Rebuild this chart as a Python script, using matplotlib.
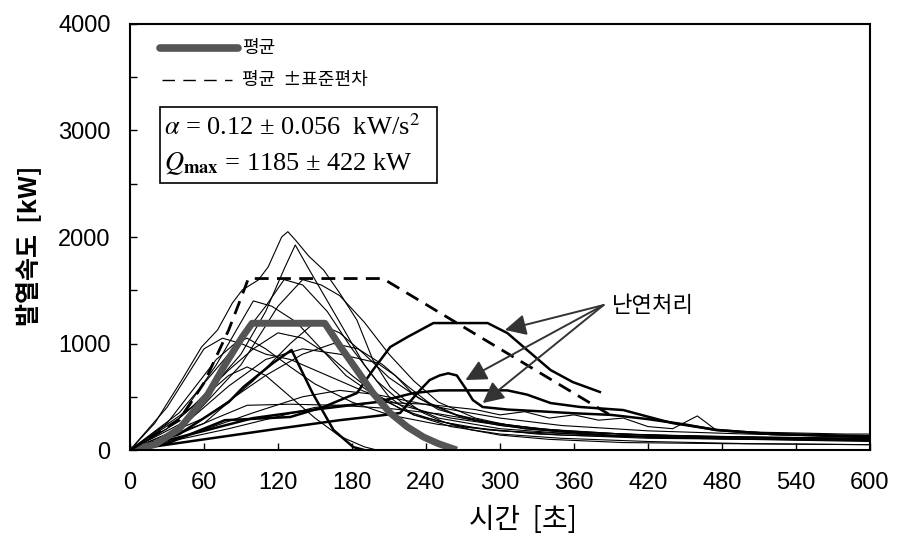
import matplotlib
matplotlib.use("Agg")
import matplotlib.pyplot as plt
from matplotlib.patches import Rectangle

plt.rcParams['font.family'] = ['Liberation Sans', 'Noto Sans CJK KR', 'DejaVu Sans']
plt.rcParams['mathtext.fontset'] = 'stix'

# mean and mean+std (kW vs s)
t_mean = [0, 20, 40, 63, 77, 91, 99, 158, 170, 184, 197, 211, 225, 238, 250, 265]
q_mean = [0, 50, 200, 520, 800, 1060, 1190, 1190, 980, 750, 535, 347, 216, 122, 60, 0]
t_std = [0, 40, 60, 80, 90, 96, 205, 392]
q_std = [0, 280, 630, 1126, 1426, 1610, 1610, 310]

# individual tests (thin lines)
t_c01 = [0, 20, 42, 58, 71, 83, 91, 104, 112, 123, 128, 135, 145, 157, 170, 184, 197, 211, 225, 238, 255, 276, 300, 340, 400, 480, 600]
q_c01 = [0, 250, 657, 967, 1127, 1380, 1502, 1596, 1718, 2000, 2050, 1960, 1820, 1690, 1474, 1220, 845, 590, 450, 347, 260, 190, 140, 100, 70, 60, 50]
t_c02 = [0, 30, 60, 90, 110, 125, 134, 145, 160, 175, 190, 210, 230, 260, 300, 350, 420, 500, 600]
q_c02 = [0, 200, 500, 900, 1300, 1700, 1925, 1700, 1400, 1100, 800, 500, 330, 220, 150, 110, 80, 60, 50]
t_c03 = [0, 40, 80, 110, 125, 140, 160, 180, 200, 220, 250, 300, 360, 450, 600]
q_c03 = [0, 350, 900, 1350, 1600, 1550, 1300, 950, 650, 450, 300, 200, 150, 120, 100]
t_c04 = [0, 30, 60, 75, 90, 110, 130, 160, 190, 220, 260, 320, 400, 500, 600]
q_c04 = [0, 400, 950, 1050, 1000, 900, 850, 700, 550, 420, 300, 200, 130, 100, 80]
t_c05 = [0, 40, 70, 90, 100, 115, 135, 155, 175, 200, 230, 270, 330, 420, 600]
q_c05 = [0, 300, 800, 1200, 1400, 1350, 1200, 950, 700, 500, 330, 220, 150, 110, 90]
t_c06 = [0, 50, 90, 120, 140, 155, 170, 190, 210, 230, 250, 280, 320, 380, 450, 600]
q_c06 = [0, 300, 800, 1350, 1600, 1550, 1450, 1200, 900, 650, 450, 300, 200, 140, 110, 90]
t_c07 = [0, 60, 100, 130, 150, 170, 190, 210, 235, 265, 300, 360, 440, 600]
q_c07 = [0, 250, 650, 1000, 1200, 1100, 900, 680, 480, 330, 240, 170, 130, 110]
t_c08 = [0, 40, 80, 92, 116, 131, 148, 165, 181, 190]
q_c08 = [0, 150, 450, 592, 817, 939, 535, 188, 28, 0]
t_c09 = [0, 30, 60, 80, 95, 110, 130, 150, 170, 190, 200]
q_c09 = [0, 200, 500, 700, 780, 700, 500, 300, 130, 30, 0]
t_c10 = [0, 40, 70, 95, 130, 170, 210, 250, 290, 340, 400, 480, 600]
q_c10 = [0, 150, 300, 420, 430, 420, 390, 340, 260, 190, 150, 120, 100]
t_c12 = [0, 40, 80, 110, 140, 170, 200, 215, 230, 250, 280, 330, 400, 500, 600]
q_c12 = [0, 200, 600, 850, 950, 900, 820, 700, 520, 380, 280, 200, 150, 120, 100]
t_c13 = [0, 50, 80, 100, 120, 140, 160, 180, 200, 220, 250, 290, 350, 450, 600]
q_c13 = [0, 400, 750, 950, 1100, 1050, 900, 700, 520, 380, 270, 190, 140, 110, 90]
t_c14 = [0, 30, 50, 70, 85, 95, 110, 130, 150, 180, 210, 250, 300, 400, 600]
q_c14 = [0, 250, 550, 850, 1000, 1050, 950, 780, 620, 450, 330, 240, 180, 130, 100]
t_c15 = [0, 50, 100, 140, 170, 200, 230, 260, 300, 350, 420, 500, 600]
q_c15 = [0, 150, 350, 500, 560, 520, 450, 380, 300, 230, 180, 150, 130]
t_c16 = [0, 80, 150, 200, 240, 280, 300, 320, 340, 360, 380, 400, 420, 440, 460, 475, 500, 540, 580, 600]
q_c16 = [0, 200, 400, 450, 430, 380, 330, 360, 300, 330, 280, 300, 220, 200, 320, 190, 170, 160, 150, 150]
t_c17 = [0, 60, 110, 140, 165, 185, 205, 225, 245, 270, 300, 350, 420, 520, 600]
q_c17 = [0, 300, 700, 900, 1000, 950, 800, 600, 420, 300, 230, 170, 140, 120, 110]

# fire retardant treated tests (thick lines)
t_f1 = [0, 30, 77, 130, 157, 184, 197, 211, 225, 246, 290, 306, 322, 341, 359, 381]
q_f1 = [0, 60, 280, 310, 404, 535, 751, 967, 1061, 1192, 1192, 1098, 939, 751, 638, 545]
t_f2 = [0, 60, 120, 170, 200, 219, 235, 243, 251, 258, 265, 273, 278, 286, 306, 330, 360, 390, 420, 450, 475, 520, 600]
q_f2 = [0, 100, 200, 280, 320, 347, 560, 657, 700, 720, 700, 563, 469, 404, 380, 365, 345, 330, 290, 240, 188, 150, 120]
t_f3 = [0, 50, 100, 150, 200, 230, 251, 306, 322, 341, 365, 400, 430, 440, 476, 520, 600]
q_f3 = [0, 150, 300, 380, 450, 535, 560, 560, 520, 441, 404, 375, 282, 253, 188, 150, 130]

thin = [(t_c01, q_c01), (t_c02, q_c02), (t_c03, q_c03), (t_c04, q_c04), (t_c05, q_c05),
        (t_c06, q_c06), (t_c07, q_c07), (t_c09, q_c09), (t_c10, q_c10),
        (t_c12, q_c12), (t_c13, q_c13), (t_c14, q_c14), (t_c15, q_c15), (t_c16, q_c16),
        (t_c17, q_c17)]
thick = [(t_c08, q_c08), (t_f1, q_f1), (t_f2, q_f2), (t_f3, q_f3)]

arrow_tips = [(304, 1127), (272, 657), (286, 441)]
arrow_base = (384, 1361)

fig = plt.figure(figsize=(9.02, 5.49), dpi=100)
ax = fig.add_axes([0.1441, 0.1803, 0.8204, 0.776])

for t, q in thin:
    ax.plot(t, q, color='black', lw=0.8)
for t, q in thick:
    ax.plot(t, q, color='black', lw=1.8)
ax.plot(t_mean, q_mean, color='#555555', lw=5, solid_capstyle='butt')
ax.plot(t_std, q_std, color='black', lw=2, dashes=(5, 3))

for tip in arrow_tips:
    ax.annotate('', xy=tip, xytext=arrow_base,
                arrowprops=dict(arrowstyle='-|>', color='#333333', lw=1.4, mutation_scale=32,
                                shrinkA=0, shrinkB=0))
ax.text(391, 1361, '난연처리', fontsize=16, family=['Noto Sans CJK KR'], va='center', ha='left')

# legend drawn by hand
ax.plot([0.04, 0.146], [0.944, 0.944], transform=ax.transAxes, color='#555555', lw=5.5,
        solid_capstyle='round')
ax.text(0.152, 0.944, '평균', transform=ax.transAxes, fontsize=13, va='center',
        family=['Noto Sans CJK KR'])
ax.plot([0.043, 0.138], [0.869, 0.869], transform=ax.transAxes, color='black', lw=1.0,
        dashes=(9, 6))
ax.text(0.152, 0.869, '평균  ±표준편차', transform=ax.transAxes, fontsize=13, va='center',
        family=['Noto Sans CJK KR', 'DejaVu Sans'])

ax.add_patch(Rectangle((0.04, 0.627), 0.375, 0.178, transform=ax.transAxes, fill=False,
                       ec='black', lw=1.2))
ax.text(0.046, 0.757, r'$\alpha$ = 0.12 ± 0.056  kW/s$^2$', transform=ax.transAxes,
        fontsize=19, va='center', family='Liberation Serif')
ax.text(0.046, 0.673, r'$Q_{\mathbf{max}}$ = 1185 ± 422 kW', transform=ax.transAxes,
        fontsize=19, va='center', family='Liberation Serif')

ax.set_xlim(0, 600)
ax.set_ylim(0, 4000)
ax.set_xticks(range(0, 601, 60))
ax.set_yticks(range(0, 4001, 1000))
ax.set_yticks(range(0, 4001, 500), minor=True)
ax.tick_params(axis='both', which='both', direction='in', length=5, width=1)
ax.tick_params(axis='y', labelsize=17, pad=14)
ax.tick_params(axis='x', labelsize=17, pad=16)
for s in ax.spines.values():
    s.set_linewidth(1.5)

fig.text(0.58, 0.052, '시간  [초]', ha='center', va='center', fontsize=20,
         family=['Noto Sans CJK KR'])
fig.text(0.032, 0.553, '발열속도  [kW]', ha='center', va='center', rotation=90, fontsize=18,
         fontweight='bold', family=['Noto Sans CJK KR'])

fig.savefig('out.png', dpi=100)
